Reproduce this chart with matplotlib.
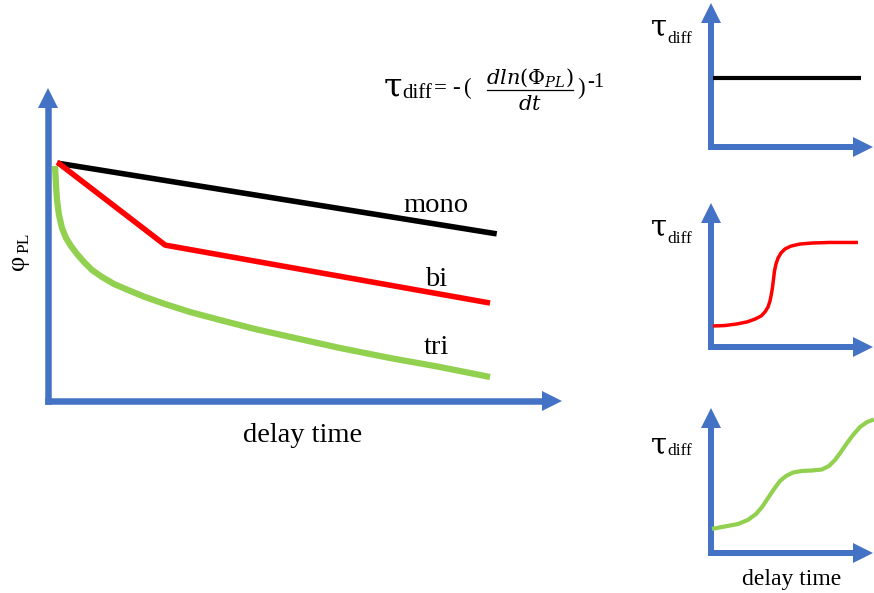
import matplotlib
matplotlib.use("Agg")
import matplotlib.pyplot as plt
from matplotlib.patches import Polygon

plt.rcParams["font.family"] = ["Liberation Serif", "DejaVu Serif"]
plt.rcParams["mathtext.fontset"] = "custom"
plt.rcParams["mathtext.rm"] = "DejaVu Serif"
plt.rcParams["mathtext.it"] = "DejaVu Serif:italic"
plt.rcParams["mathtext.bf"] = "DejaVu Serif:bold"

# ---- schematic decay curves (delay time vs. PL intensity, arbitrary units 0..10)
mono_t = [0.18, 8.73]
mono_pl = [7.60, 5.34]

bi_t = [0.18, 2.28, 8.60]
bi_pl = [7.63, 4.98, 3.13]

tri_t = [0.136, 0.156, 0.175, 0.214, 0.272, 0.350, 0.447, 0.564, 0.700,
         0.856, 1.051, 1.284, 1.556, 1.887, 2.276, 2.763, 3.346, 4.027,
         4.805, 5.681, 6.654, 7.626, 8.599]
tri_pl = [7.508, 6.901, 6.422, 5.942, 5.527, 5.208, 4.952, 4.696, 4.441,
          4.185, 3.962, 3.738, 3.546, 3.323, 3.099, 2.843, 2.588, 2.300,
          2.013, 1.693, 1.374, 1.086, 0.767]

# ---- differential lifetime sketches (arbitrary units 0..10)
tau_mono_t = [0.12, 9.26]
tau_mono = [4.79, 4.79]

tau_bi_t = [0.12, 0.86, 1.60, 2.22, 2.72, 3.09, 3.33, 3.52, 3.64, 3.73, 3.80,
            3.86, 3.92, 4.01, 4.14, 4.32, 4.57, 4.94, 5.49, 6.23, 7.35, 9.07]
tau_bi = [1.46, 1.49, 1.60, 1.74, 1.94, 2.15, 2.43, 2.78, 3.19, 3.68, 4.17,
          4.72, 5.28, 5.76, 6.18, 6.53, 6.81, 7.01, 7.15, 7.22, 7.26, 7.26]

tau_tri_t = [0.06, 0.86, 1.67, 2.28, 2.78, 3.15, 3.52, 3.89, 4.26, 4.63, 5.06,
             5.62, 6.23, 6.85, 7.28, 7.65, 8.02, 8.40, 8.77, 9.20, 9.63, 10.06]
tau_tri = [1.66, 1.83, 2.00, 2.28, 2.69, 3.17, 3.79, 4.41, 4.97, 5.31, 5.55,
           5.66, 5.69, 5.76, 6.00, 6.41, 6.97, 7.59, 8.14, 8.69, 9.03, 9.21]

curve_labels = ["mono", "bi", "tri"]

BLUE = "#4472C4"
GREEN = "#92D050"
RED = "#FF0000"
BLACK = "#000000"

W, H = 874, 593
fig = plt.figure(figsize=(W / 100, H / 100), dpi=100)
bg = fig.add_axes([0, 0, 1, 1])
bg.set_xlim(0, W)
bg.set_ylim(H, 0)
bg.axis("off")
renderer = fig.canvas.get_renderer()


def panel(x0, x1, y0, y1):
    """Axes whose data box spans the given pixel rectangle."""
    ax = fig.add_axes([x0 / W, 1 - y1 / H, (x1 - x0) / W, (y1 - y0) / H])
    ax.set_xlim(0, 10)
    ax.set_ylim(0, 10)
    ax.axis("off")
    ax.patch.set_alpha(0)
    return ax


def arrow_axes(x0, y_bottom, x_tip, y_tip, shaft, head_len, head_half):
    lw = shaft * 0.72
    bg.plot([x0, x0], [y_bottom, y_tip + head_len], color=BLUE, lw=lw,
            solid_capstyle="projecting", zorder=1)
    bg.plot([x0, x_tip - head_len], [y_bottom, y_bottom], color=BLUE, lw=lw,
            solid_capstyle="projecting", zorder=1)
    bg.add_patch(Polygon([[x0 - head_half, y_tip + head_len],
                          [x0 + head_half, y_tip + head_len],
                          [x0, y_tip]], closed=True, color=BLUE, lw=0, zorder=1))
    bg.add_patch(Polygon([[x_tip - head_len, y_bottom - head_half],
                          [x_tip - head_len, y_bottom + head_half],
                          [x_tip, y_bottom]], closed=True, color=BLUE, lw=0, zorder=1))


def tau_label(x, base, sub_base, tau_size, sub_size):
    t = bg.text(x, base, "τ", fontsize=tau_size, family="DejaVu Serif",
                ha="left", va="baseline")
    x_end = t.get_window_extent(renderer).x1
    bg.text(x_end, sub_base, "diff", fontsize=sub_size, ha="left", va="baseline",
            transform=matplotlib.transforms.blended_transform_factory(
                matplotlib.transforms.IdentityTransform(), bg.transData))


# ---- main panel
arrow_axes(48, 401, 562, 88, 6.5, 20, 10)
main = panel(48, 562, 88, 401)
main.plot(mono_t, mono_pl, color=BLACK, lw=4, solid_capstyle="butt", clip_on=False)
main.plot(bi_t, bi_pl, color=RED, lw=4, solid_capstyle="butt", clip_on=False)
main.plot(tri_t, tri_pl, color=GREEN, lw=4.5, solid_capstyle="butt",
          solid_joinstyle="round", clip_on=False)

for lab, (x, y) in zip(curve_labels, [(436, 212), (436, 286), (436, 354)]):
    bg.text(x, y, lab, fontsize=20.5, ha="center", va="baseline")

bg.text(303, 442, "delay time", fontsize=20.5, ha="center", va="baseline")
bg.text(18.5, 262, "φ", fontsize=19, rotation=90, ha="center", va="center")
bg.text(24, 243, "PL", fontsize=12.5, rotation=90, ha="center", va="center")

# ---- formula
tau_label(384, 97, 98, 24, 15)
bg.text(434, 94, "=", fontsize=16.5, ha="left", va="baseline")
bg.text(452, 94, "-", fontsize=16.5, ha="left", va="baseline")
bg.text(464, 94, "(", fontsize=16.5, ha="left", va="baseline")
bg.text(530, 84, r"$dln(\Phi_{PL})$", fontsize=15, ha="center", va="baseline")
bg.plot([487, 573], [90, 90], color=BLACK, lw=0.9)
bg.text(530, 110, r"$dt$", fontsize=15, ha="center", va="baseline")
bg.text(577, 94, ")", fontsize=16.5, ha="left", va="baseline")
bg.text(587, 87, "-1", fontsize=15, ha="left", va="baseline")

# ---- right-hand panels: differential lifetime
small = [
    (3, 147, tau_mono_t, tau_mono, BLACK, 3.0, 35, 42.7),
    (203, 347, tau_bi_t, tau_bi, RED, 2.5, 235, 242.7),
    (408, 553, tau_tri_t, tau_tri, GREEN, 3.0, 453, 455),
]
for y_top, y_bot, t, v, col, lw, tau_base, sub_base in small:
    arrow_axes(711, y_bot, 873, y_top, 6, 20, 10)
    ax = panel(711, 873, y_top, y_bot)
    ax.plot(t, v, color=col, lw=lw, solid_capstyle="butt",
            solid_joinstyle="round", clip_on=False)
    tau_label(651, tau_base, sub_base, 21, 12.5)

bg.text(792, 585, "delay time", fontsize=17, ha="center", va="baseline")

fig.savefig("out.png", dpi=100)
